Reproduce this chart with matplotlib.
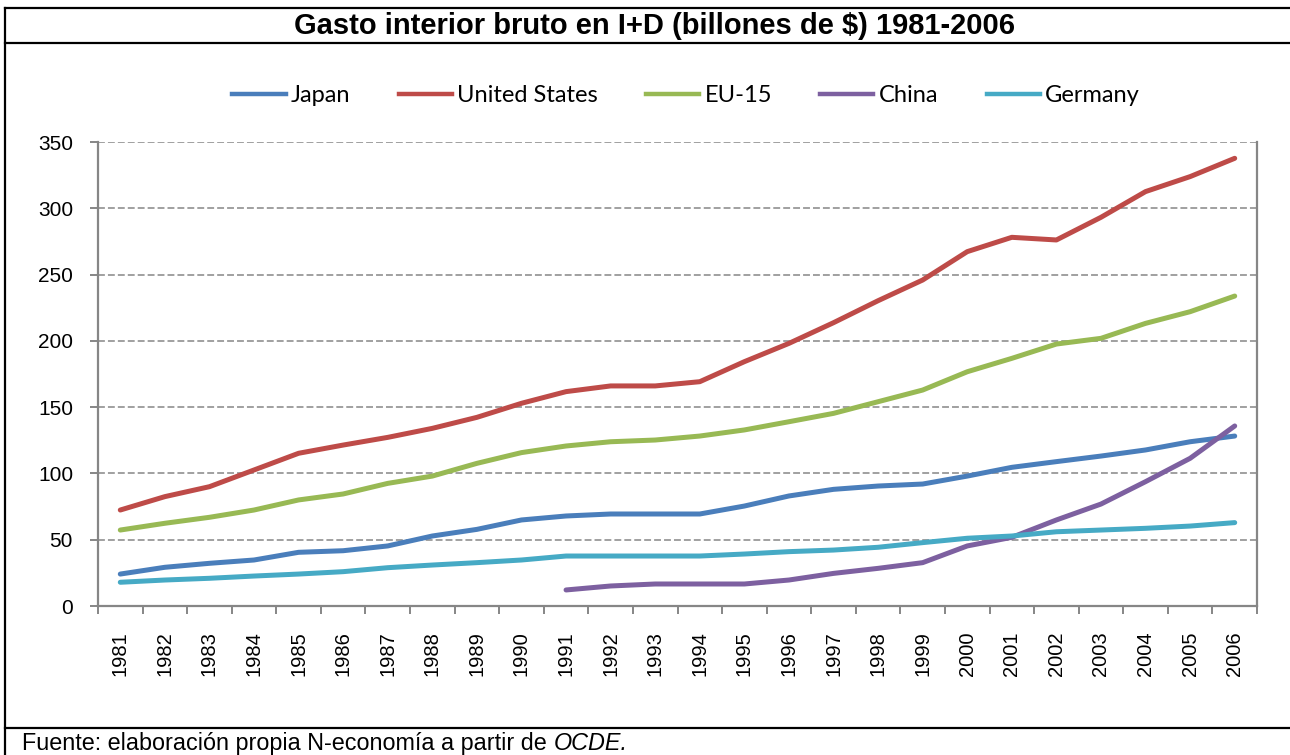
import numpy as np
import matplotlib
matplotlib.use('Agg')
from matplotlib import pyplot as plt
from matplotlib.lines import Line2D

# data (billions of $)
years = [str(y) for y in range(1981, 2007)]
japan = [24.1, 29.2, 32.2, 34.7, 40.5, 41.7, 45.3, 52.8, 57.8, 64.9, 67.9, 69.4, 69.4,
         69.4, 75.4, 83.0, 88.0, 90.5, 92.0, 98.0, 104.6, 108.9, 113.1, 117.7, 123.9, 128.2]
united_states = [72.4, 82.5, 90.0, 102.6, 115.2, 121.4, 127.2, 134.0, 142.3, 152.9, 161.7,
                 166.0, 166.0, 169.2, 184.3, 198.1, 213.7, 230.3, 245.9, 267.3, 278.1,
                 276.1, 293.2, 312.6, 323.9, 337.7]
eu15 = [57.3, 62.4, 66.9, 72.4, 80.0, 84.5, 92.5, 98.0, 107.6, 115.7, 120.7, 123.9, 125.2,
        128.2, 132.8, 139.0, 145.3, 154.1, 162.9, 176.7, 186.8, 197.6, 201.9, 213.2, 222.0,
        233.8]
china = [np.nan] * 10 + [12.1, 15.1, 16.6, 16.6, 16.6, 19.6, 24.6, 28.4, 32.7, 45.3, 51.8,
                         64.9, 76.9, 93.8, 111.4, 135.8]
germany = [17.9, 19.6, 20.9, 22.6, 24.1, 25.9, 28.9, 30.9, 32.7, 34.7, 37.7, 37.7, 37.7,
           37.7, 39.2, 41.0, 42.2, 44.3, 47.8, 51.1, 52.8, 56.0, 57.3, 58.6, 60.3, 62.9]

series_names = ['Japan', 'United States', 'EU-15', 'China', 'Germany']
series_data = [japan, united_states, eu15, china, germany]
series_colors = ['#4A7EBB', '#BE4B48', '#98B954', '#7D60A0', '#46AAC5']

title = 'Gasto interior bruto en I+D (billones de $) 1981-2006'
source_text = 'Fuente: elaboración propia N-economía a partir de '
source_italic = 'OCDE.'

W, H = 1290, 755
GRAY = '#868686'
plt.rcParams['font.family'] = ['Liberation Sans', 'DejaVu Sans']

fig = plt.figure(figsize=(W / 100, H / 100), dpi=100)
fig.patch.set_facecolor('white')
ax = fig.add_axes([98 / W, 1 - 606 / H, (1257 - 98) / W, (606 - 142) / H])

x = np.arange(len(years))
handles = []
for name, vals, col in zip(series_names, series_data, series_colors):
    h, = ax.plot(x, vals, color=col, lw=3.6, solid_capstyle='round',
                 solid_joinstyle='round', label=name)
    handles.append(h)

# axes and grid
ax.set_xlim(-0.5, len(years) - 0.5)
ax.set_ylim(0, 350)
ax.set_yticks(np.arange(0, 351, 50))
ax.yaxis.grid(True, color=GRAY, linestyle=(0, (4.5, 2)), linewidth=1.1)
ax.set_axisbelow(True)
for side in ['left', 'bottom', 'right']:
    ax.spines[side].set_color(GRAY)
    ax.spines[side].set_linewidth(1.6)
ax.spines['top'].set_visible(False)

# category axis: tick marks between categories, labels at centers
ax.set_xticks(np.arange(-0.5, len(years), 1.0))
ax.set_xticklabels([])
ax.set_xticks(x, minor=True)
ax.set_xticklabels(years, minor=True, rotation=90, fontsize=14.5)
ax.tick_params(axis='x', which='major', length=6, width=1.4, color=GRAY)
ax.tick_params(axis='x', which='minor', length=0, pad=18)
ax.tick_params(axis='y', length=6, width=1.4, color=GRAY, labelsize=15, pad=12)

# title and legend
fig.text(655 / W, 1 - 26 / H, title, ha='center', va='center',
         fontsize=21, fontweight='bold')
leg_handles = [Line2D([], [], color=c, lw=3.2) for c in series_colors]
fig.legend(leg_handles, series_names, loc='center',
           bbox_to_anchor=(686 / W, 1 - 96 / H),
           ncol=5, frameon=False, prop={'family': 'Lato', 'size': 17},
           handlelength=2.25, handletextpad=0.22, columnspacing=2.05)

# frame lines around the chart
line_kw = dict(color='black', lw=1.6, transform=fig.transFigure)
fig.add_artist(Line2D([5 / W, 5 / W], [0, 1 - 8 / H], **line_kw))
fig.add_artist(Line2D([5 / W, 1], [1 - 8 / H, 1 - 8 / H], **line_kw))
fig.add_artist(Line2D([5 / W, 1], [1 - 43 / H, 1 - 43 / H], **line_kw))
fig.add_artist(Line2D([5 / W, 1], [1 - 728 / H, 1 - 728 / H], **line_kw))

# source note, with the italic part placed after the plain part
t = fig.text(22 / W, 1 - 750 / H, source_text, fontsize=16.8, va='baseline')
fig.canvas.draw()
bb = t.get_window_extent()
fig.text(bb.x1 / W, 1 - 750 / H, source_italic, fontsize=16.8, va='baseline',
         style='italic')

fig.savefig('out.png', dpi=100)
